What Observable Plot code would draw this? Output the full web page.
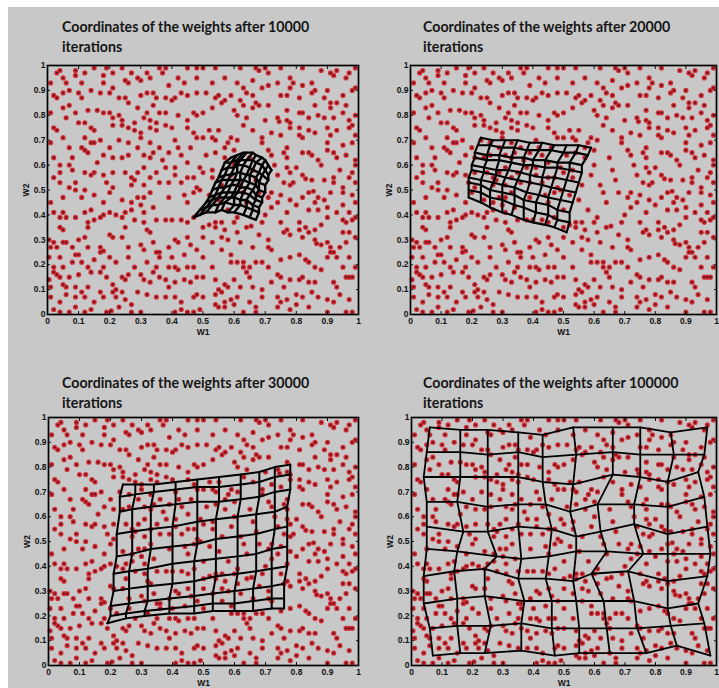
<!DOCTYPE html>
<html><head><meta charset="utf-8">
<script src="https://cdn.jsdelivr.net/npm/d3@7"></script>
<script src="https://cdn.jsdelivr.net/npm/@observablehq/plot@0.6"></script>
<style>
html,body{margin:0;padding:0;background:#fff;}
#page{position:relative;width:719px;height:688px;background:#fff;overflow:hidden;}
#bg{position:absolute;left:8px;top:7px;right:0;bottom:0;background:#c8c8c8;}
.title{position:absolute;font-family:Lato,"Open Sans",sans-serif;font-weight:700;font-size:14.2px;line-height:20px;color:#161616;white-space:nowrap;}
.panel{position:absolute;}
</style></head><body><div id="page"><div id="bg"></div></div>
<script>
const iterationCounts = [10000, 20000, 30000, 100000];
const tickValues = [0,0.1,0.2,0.3,0.4,0.5,0.6,0.7,0.8,0.9,1];
const tickLabels = ["0","0.1","0.2","0.3","0.4","0.5","0.6","0.7","0.8","0.9","1"];

// input samples (W1, W2) — same in all four panels
const samples = [
[0.03,0.97],[0.04,0.98],[0.05,0.95],[0.09,0.98],[0.09,0.96],[0.12,0.97],[0.15,0.99],[0.18,0.96],[0.18,0.93],[0.19,0.99],[0.21,0.97],[0.24,0.99],[0.27,0.97],[0.25,0.94],[0.26,0.93],[0.29,0.95],[0.30,0.94],[0.32,0.97],[0.33,0.95],[0.36,0.99],[0.37,0.97],[0.38,0.99],[0.42,0.95],[0.45,0.99],[0.48,0.99],[0.48,0.95],
[0.02,0.88],[0.03,0.87],[0.05,0.89],[0.07,0.90],[0.10,0.89],[0.11,0.87],[0.14,0.90],[0.17,0.89],[0.20,0.89],[0.21,0.91],[0.23,0.87],[0.25,0.87],[0.26,0.85],[0.30,0.88],[0.32,0.89],[0.34,0.89],[0.35,0.87],[0.38,0.87],[0.40,0.86],[0.41,0.87],[0.43,0.89],[0.45,0.88],[0.48,0.89],
[0.05,0.83],[0.07,0.84],[0.06,0.79],[0.09,0.81],[0.13,0.82],[0.16,0.82],[0.18,0.81],[0.20,0.81],[0.21,0.79],[0.23,0.80],[0.24,0.78],[0.28,0.77],[0.31,0.79],[0.32,0.81],[0.33,0.78],[0.35,0.77],[0.36,0.81],[0.38,0.81],[0.42,0.80],[0.45,0.78],[0.47,0.81],[0.48,0.80],[0.01,0.81],
[0.02,0.75],[0.03,0.74],[0.10,0.77],[0.14,0.75],[0.15,0.74],[0.12,0.77],[0.21,0.76],[0.24,0.76],[0.26,0.75],[0.28,0.74],[0.30,0.73],[0.33,0.75],[0.35,0.74],[0.38,0.76],[0.40,0.75],[0.41,0.70],[0.45,0.75],[0.47,0.73],[0.48,0.71],[0.01,0.69],[0.05,0.71],[0.12,0.71],[0.14,0.69],[0.17,0.70],[0.23,0.70],[0.30,0.71],[0.33,0.69],
[0.07,0.67],[0.11,0.67],[0.12,0.66],[0.15,0.69],[0.20,0.67],[0.26,0.69],[0.29,0.67],[0.02,0.63],[0.08,0.63],[0.13,0.65],[0.18,0.64],[0.21,0.63],[0.24,0.63],[0.26,0.64],[0.31,0.64],[0.33,0.63],[0.34,0.65],[0.39,0.65],[0.42,0.67],[0.45,0.61],[0.49,0.59],[0.46,0.67],
[0.04,0.60],[0.07,0.60],[0.08,0.58],[0.04,0.57],[0.12,0.57],[0.14,0.56],[0.15,0.57],[0.18,0.56],[0.21,0.57],[0.25,0.57],[0.27,0.55],[0.28,0.54],[0.29,0.57],[0.31,0.59],[0.35,0.57],[0.38,0.59],[0.41,0.59],[0.41,0.56],[0.43,0.53],[0.45,0.55],[0.47,0.55],[0.02,0.55],[0.09,0.53],[0.19,0.53],[0.21,0.51],[0.27,0.52],[0.36,0.53],[0.39,0.53],[0.48,0.51],
[0.50,0.99],[0.54,0.99],[0.57,0.95],[0.62,0.99],[0.67,0.99],[0.68,0.98],[0.70,0.99],[0.71,0.97],[0.75,0.99],[0.78,0.95],[0.82,0.99],[0.85,0.93],[0.88,0.98],[0.91,0.97],[0.92,0.96],[0.93,0.98],[0.96,0.95],[0.97,0.97],[0.99,0.99],
[0.51,0.89],[0.53,0.93],[0.54,0.87],[0.55,0.88],[0.56,0.85],[0.57,0.86],[0.61,0.93],[0.63,0.91],[0.64,0.89],[0.66,0.94],[0.66,0.88],[0.69,0.91],[0.71,0.92],[0.74,0.93],[0.75,0.88],[0.77,0.88],[0.78,0.91],[0.79,0.93],[0.85,0.89],[0.86,0.90],[0.89,0.87],[0.90,0.90],[0.91,0.85],[0.93,0.85],[0.95,0.88],[0.98,0.90],[0.99,0.91],
[0.50,0.81],[0.53,0.83],[0.60,0.82],[0.61,0.80],[0.63,0.84],[0.66,0.83],[0.67,0.85],[0.68,0.84],[0.71,0.84],[0.74,0.79],[0.745,0.775],[0.77,0.82],[0.77,0.78],[0.78,0.77],[0.81,0.81],[0.82,0.81],[0.84,0.79],[0.86,0.84],[0.87,0.80],[0.89,0.79],[0.91,0.83],[0.92,0.79],[0.95,0.81],[0.97,0.78],[0.99,0.80],[0.96,0.84],
[0.52,0.74],[0.55,0.74],[0.50,0.71],[0.53,0.71],[0.54,0.70],[0.58,0.69],[0.59,0.71],[0.61,0.70],[0.69,0.71],[0.72,0.73],[0.75,0.72],[0.78,0.75],[0.81,0.75],[0.81,0.72],[0.82,0.71],[0.84,0.74],[0.86,0.73],[0.90,0.75],[0.91,0.72],[0.90,0.69],[0.93,0.74],[0.95,0.68],[0.98,0.69],[0.99,0.72],[0.98,0.76],[0.97,0.75],
[0.51,0.64],[0.54,0.65],[0.57,0.67],[0.60,0.66],[0.69,0.69],[0.72,0.64],[0.76,0.65],[0.77,0.63],[0.77,0.67],[0.82,0.65],[0.84,0.65],[0.85,0.64],[0.92,0.65],[0.93,0.63],[0.96,0.64],[0.99,0.62],[0.99,0.60],[0.88,0.60],[0.77,0.59],[0.80,0.59],
[0.50,0.57],[0.53,0.58],[0.78,0.57],[0.82,0.56],[0.83,0.545],[0.79,0.53],[0.78,0.52],[0.85,0.54],[0.89,0.54],[0.92,0.53],[0.92,0.55],[0.95,0.51],[0.97,0.55],[0.98,0.57],[0.99,0.53],[0.76,0.53],
[0.60,0.60],[0.62,0.52],[0.66,0.58],[0.68,0.49],[0.55,0.46],[0.58,0.42],[0.64,0.45],[0.70,0.40],[0.50,0.42],[0.53,0.55],[0.57,0.63],[0.65,0.63],[0.49,0.50],[0.61,0.39],[0.67,0.54],[0.59,0.56],[0.52,0.48],[0.71,0.47],[0.63,0.49],[0.56,0.52],
[0.01,0.45],[0.05,0.47],[0.09,0.50],[0.11,0.47],[0.15,0.48],[0.18,0.45],[0.20,0.49],[0.24,0.46],[0.27,0.45],[0.29,0.47],[0.30,0.44],[0.31,0.47],[0.33,0.49],[0.39,0.47],[0.44,0.48],[0.45,0.45],[0.47,0.49],
[0.02,0.41],[0.04,0.39],[0.05,0.41],[0.06,0.39],[0.09,0.39],[0.12,0.41],[0.14,0.42],[0.15,0.38],[0.17,0.39],[0.18,0.40],[0.20,0.41],[0.22,0.40],[0.24,0.39],[0.25,0.41],[0.28,0.38],[0.31,0.41],[0.31,0.37],[0.35,0.38],[0.38,0.38],[0.40,0.38],[0.43,0.38],[0.45,0.37],[0.47,0.39],[0.04,0.35],[0.05,0.34],[0.13,0.37],[0.13,0.35],[0.25,0.35],[0.32,0.34],[0.33,0.33],
[0.005,0.30],[0.02,0.29],[0.03,0.27],[0.05,0.29],[0.06,0.29],[0.10,0.30],[0.12,0.31],[0.17,0.27],[0.20,0.32],[0.21,0.31],[0.24,0.31],[0.26,0.27],[0.30,0.28],[0.31,0.26],[0.34,0.29],[0.36,0.25],[0.39,0.27],[0.41,0.30],[0.42,0.29],[0.45,0.31],[0.48,0.26],[0.01,0.27],[0.18,0.255],
[0.005,0.23],[0.04,0.23],[0.05,0.19],[0.08,0.21],[0.09,0.24],[0.10,0.24],[0.11,0.21],[0.13,0.19],[0.15,0.22],[0.17,0.25],[0.20,0.23],[0.22,0.21],[0.26,0.23],[0.28,0.19],[0.32,0.21],[0.35,0.25],[0.36,0.23],[0.35,0.19],[0.39,0.19],[0.41,0.19],[0.42,0.18],[0.45,0.19],[0.47,0.19],[0.02,0.19],
[0.005,0.14],[0.03,0.16],[0.04,0.15],[0.07,0.15],[0.10,0.16],[0.14,0.17],[0.17,0.17],[0.24,0.15],[0.25,0.14],[0.26,0.16],[0.30,0.16],[0.31,0.14],[0.33,0.13],[0.36,0.15],[0.39,0.11],[0.41,0.13],[0.44,0.14],[0.46,0.13],[0.48,0.15],[0.21,0.12],[0.22,0.10],[0.13,0.11],[0.05,0.12],[0.06,0.11],[0.09,0.11],
[0.01,0.07],[0.04,0.05],[0.06,0.08],[0.09,0.07],[0.11,0.09],[0.12,0.07],[0.15,0.05],[0.17,0.09],[0.18,0.07],[0.21,0.09],[0.22,0.07],[0.24,0.09],[0.27,0.04],[0.32,0.08],[0.35,0.07],[0.38,0.07],[0.41,0.07],[0.43,0.05],[0.47,0.07],[0.48,0.08],[0.02,0.02],[0.04,0.01],[0.07,0.01],[0.09,0.03],[0.12,0.01],[0.14,0.02],[0.19,0.01],[0.205,0.015],[0.27,0.01],[0.30,0.01],[0.41,0.01],[0.43,0.02],[0.47,0.01],[0.45,0.01],[0.49,0.02],
[0.72,0.49],[0.75,0.48],[0.78,0.46],[0.82,0.47],[0.84,0.49],[0.855,0.495],[0.86,0.45],[0.87,0.47],[0.89,0.46],[0.91,0.49],[0.95,0.49],[0.98,0.48],[0.99,0.45],[0.84,0.42],[0.87,0.42],[0.90,0.43],[0.93,0.41],[0.97,0.41],[0.74,0.45],
[0.50,0.35],[0.54,0.37],[0.54,0.35],[0.56,0.37],[0.57,0.34],[0.60,0.37],[0.64,0.35],[0.655,0.355],[0.69,0.37],[0.75,0.37],[0.77,0.34],[0.81,0.37],[0.81,0.34],[0.83,0.35],[0.86,0.34],[0.90,0.39],[0.95,0.38],[0.96,0.37],[0.98,0.38],[0.99,0.39],[0.95,0.33],[0.97,0.33],[0.52,0.36],
[0.50,0.31],[0.53,0.29],[0.56,0.31],[0.61,0.33],[0.62,0.29],[0.71,0.30],[0.71,0.27],[0.72,0.26],[0.76,0.33],[0.78,0.32],[0.82,0.31],[0.84,0.33],[0.86,0.30],[0.865,0.285],[0.88,0.28],[0.90,0.29],[0.91,0.27],[0.92,0.25],[0.96,0.29],[0.99,0.31],
[0.50,0.23],[0.53,0.19],[0.59,0.21],[0.61,0.21],[0.63,0.21],[0.63,0.19],[0.65,0.19],[0.67,0.21],[0.69,0.21],[0.71,0.19],[0.75,0.22],[0.78,0.23],[0.81,0.24],[0.83,0.22],[0.84,0.21],[0.86,0.19],[0.88,0.18],[0.90,0.23],[0.91,0.25],[0.93,0.23],[0.95,0.19],[0.99,0.19],[0.97,0.15],
[0.50,0.15],[0.54,0.14],[0.55,0.10],[0.57,0.12],[0.58,0.11],[0.60,0.14],[0.64,0.17],[0.65,0.15],[0.66,0.11],[0.72,0.13],[0.74,0.16],[0.75,0.15],[0.76,0.11],[0.78,0.14],[0.81,0.14],[0.82,0.15],[0.84,0.13],[0.86,0.13],[0.92,0.13],[0.93,0.11],[0.96,0.15],[0.98,0.15],
[0.50,0.07],[0.54,0.08],[0.56,0.09],[0.57,0.05],[0.59,0.06],[0.61,0.07],[0.65,0.05],[0.67,0.03],[0.69,0.07],[0.74,0.07],[0.75,0.05],[0.77,0.06],[0.80,0.08],[0.82,0.07],[0.87,0.07],[0.90,0.06],[0.92,0.05],[0.96,0.01],[0.98,0.01],[0.54,0.04],[0.55,0.03],[0.57,0.03],[0.60,0.04],[0.63,0.01],[0.67,0.01],[0.74,0.03],[0.78,0.02],[0.90,0.01],
[0.56,0.26],[0.59,0.24],[0.58,0.30],[0.66,0.27],[0.68,0.32],[0.37,0.62],[0.43,0.64],[0.36,0.67],[0.87,0.62],[0.94,0.58],[0.90,0.66],[0.63,0.76],[0.66,0.74],[0.70,0.78],[0.64,0.79],
[0.07,0.51],[0.12,0.50],[0.04,0.53],[0.31,0.52],[0.33,0.55],[0.01,0.93],[0.06,0.93],[0.11,0.93],[0.25,0.06],[0.29,0.09],[0.23,0.03],[0.34,0.17],[0.38,0.14],[0.84,0.03],[0.85,0.09],[0.80,0.04],
[0.94,0.08],[0.97,0.06],[0.77,0.41],[0.72,0.43],[0.80,0.44],[0.97,0.23],[0.94,0.27],[0.59,0.88],[0.62,0.86],[0.82,0.92],[0.81,0.87],[0.44,0.24],[0.46,0.28],[0.40,0.23],[0.19,0.15],[0.18,0.19],
[0.34,0.43],[0.27,0.42],[0.13,0.27],[0.08,0.27],[0.39,0.92],[0.44,0.93],[0.62,0.11],[0.69,0.10],[0.73,0.60],[0.74,0.56],[0.71,0.66],[0.88,0.36],[0.95,0.44],[0.16,0.61],[0.29,0.83],[0.34,0.84],[0.01,0.11],[0.02,0.17]
];

// SOM weight grids (10 x 10 nodes), rows listed bottom to top, nodes left to right: [W1, W2]
const grid10k = [
[[0.47,0.39],[0.49,0.40],[0.51,0.41],[0.54,0.41],[0.56,0.42],[0.58,0.41],[0.60,0.41],[0.63,0.40],[0.65,0.39],[0.67,0.38]],
[[0.49,0.42],[0.51,0.43],[0.53,0.44],[0.55,0.44],[0.57,0.45],[0.60,0.44],[0.62,0.44],[0.64,0.43],[0.66,0.42],[0.68,0.41]],
[[0.51,0.45],[0.53,0.46],[0.55,0.47],[0.57,0.47],[0.59,0.47],[0.60,0.47],[0.62,0.46],[0.64,0.46],[0.66,0.44],[0.68,0.43]],
[[0.52,0.47],[0.54,0.48],[0.56,0.49],[0.58,0.49],[0.60,0.49],[0.61,0.49],[0.63,0.49],[0.65,0.48],[0.67,0.46],[0.69,0.45]],
[[0.53,0.50],[0.55,0.51],[0.57,0.51],[0.59,0.52],[0.61,0.52],[0.62,0.51],[0.64,0.51],[0.66,0.50],[0.67,0.48],[0.69,0.47]],
[[0.54,0.53],[0.56,0.54],[0.58,0.54],[0.60,0.54],[0.62,0.54],[0.63,0.54],[0.65,0.53],[0.67,0.52],[0.68,0.50],[0.70,0.49]],
[[0.55,0.55],[0.57,0.56],[0.59,0.56],[0.61,0.57],[0.62,0.57],[0.64,0.56],[0.65,0.56],[0.67,0.55],[0.68,0.53],[0.70,0.52]],
[[0.56,0.58],[0.58,0.59],[0.60,0.59],[0.61,0.60],[0.63,0.60],[0.65,0.59],[0.66,0.58],[0.68,0.57],[0.69,0.56],[0.71,0.54]],
[[0.57,0.61],[0.59,0.61],[0.61,0.62],[0.62,0.62],[0.64,0.62],[0.66,0.62],[0.67,0.61],[0.69,0.60],[0.70,0.58],[0.71,0.56]],
[[0.59,0.63],[0.61,0.64],[0.63,0.65],[0.64,0.65],[0.66,0.65],[0.67,0.64],[0.69,0.63],[0.70,0.62],[0.71,0.60],[0.72,0.58]]
];
const grid20k = [
[[0.19,0.47],[0.23,0.45],[0.26,0.43],[0.30,0.41],[0.33,0.40],[0.37,0.38],[0.40,0.37],[0.44,0.36],[0.47,0.35],[0.51,0.33]],
[[0.19,0.50],[0.23,0.49],[0.26,0.47],[0.30,0.46],[0.34,0.44],[0.37,0.43],[0.41,0.41],[0.45,0.40],[0.48,0.38],[0.52,0.37]],
[[0.19,0.53],[0.23,0.52],[0.26,0.50],[0.30,0.49],[0.34,0.48],[0.37,0.46],[0.41,0.45],[0.45,0.44],[0.48,0.42],[0.52,0.41]],
[[0.19,0.55],[0.23,0.54],[0.27,0.53],[0.30,0.52],[0.34,0.51],[0.38,0.49],[0.42,0.48],[0.45,0.47],[0.49,0.46],[0.53,0.45]],
[[0.20,0.58],[0.24,0.57],[0.28,0.56],[0.31,0.55],[0.35,0.54],[0.39,0.53],[0.43,0.52],[0.46,0.51],[0.50,0.50],[0.54,0.49]],
[[0.20,0.60],[0.24,0.59],[0.28,0.58],[0.32,0.58],[0.36,0.57],[0.39,0.56],[0.43,0.55],[0.47,0.55],[0.51,0.54],[0.55,0.53]],
[[0.21,0.63],[0.25,0.62],[0.29,0.62],[0.33,0.61],[0.37,0.60],[0.40,0.60],[0.44,0.59],[0.48,0.59],[0.52,0.58],[0.56,0.57]],
[[0.21,0.65],[0.25,0.64],[0.29,0.64],[0.33,0.63],[0.37,0.63],[0.40,0.62],[0.44,0.62],[0.48,0.61],[0.52,0.61],[0.56,0.60]],
[[0.22,0.68],[0.26,0.68],[0.30,0.67],[0.34,0.67],[0.38,0.66],[0.42,0.66],[0.46,0.66],[0.50,0.65],[0.54,0.65],[0.58,0.64]],
[[0.23,0.71],[0.27,0.70],[0.31,0.70],[0.35,0.70],[0.39,0.69],[0.43,0.69],[0.47,0.68],[0.51,0.68],[0.55,0.68],[0.59,0.67]]
];
const grid30k = [
[[0.19,0.17],[0.25,0.19],[0.31,0.20],[0.39,0.21],[0.47,0.21],[0.53,0.22],[0.60,0.22],[0.66,0.22],[0.72,0.23],[0.76,0.23]],
[[0.20,0.20],[0.25,0.21],[0.31,0.22],[0.39,0.23],[0.47,0.24],[0.53,0.25],[0.60,0.25],[0.66,0.26],[0.72,0.27],[0.76,0.27]],
[[0.20,0.24],[0.26,0.25],[0.32,0.26],[0.39,0.27],[0.47,0.28],[0.53,0.29],[0.60,0.30],[0.66,0.31],[0.72,0.32],[0.76,0.33]],
[[0.21,0.30],[0.26,0.31],[0.32,0.32],[0.40,0.33],[0.47,0.34],[0.54,0.36],[0.61,0.37],[0.67,0.38],[0.72,0.39],[0.77,0.40]],
[[0.21,0.37],[0.26,0.38],[0.32,0.39],[0.40,0.41],[0.47,0.42],[0.54,0.43],[0.61,0.44],[0.67,0.45],[0.72,0.47],[0.77,0.48]],
[[0.22,0.44],[0.27,0.45],[0.33,0.47],[0.40,0.48],[0.48,0.49],[0.54,0.51],[0.61,0.52],[0.67,0.53],[0.73,0.55],[0.77,0.56]],
[[0.22,0.53],[0.27,0.54],[0.33,0.55],[0.40,0.56],[0.48,0.58],[0.54,0.59],[0.61,0.60],[0.67,0.61],[0.73,0.62],[0.77,0.64]],
[[0.23,0.62],[0.27,0.63],[0.33,0.64],[0.41,0.65],[0.48,0.66],[0.55,0.66],[0.62,0.67],[0.68,0.68],[0.73,0.70],[0.78,0.71]],
[[0.23,0.68],[0.28,0.69],[0.34,0.70],[0.41,0.71],[0.48,0.72],[0.55,0.72],[0.62,0.73],[0.68,0.74],[0.73,0.76],[0.78,0.77]],
[[0.24,0.73],[0.28,0.73],[0.34,0.73],[0.41,0.74],[0.48,0.75],[0.55,0.76],[0.62,0.77],[0.68,0.78],[0.73,0.80],[0.78,0.81]]
];
const grid100k = [
[[0.07,0.04],[0.16,0.05],[0.24,0.05],[0.36,0.06],[0.47,0.04],[0.55,0.05],[0.65,0.05],[0.77,0.05],[0.87,0.08],[0.98,0.04]],
[[0.06,0.15],[0.15,0.16],[0.26,0.16],[0.36,0.17],[0.46,0.15],[0.55,0.15],[0.64,0.15],[0.74,0.15],[0.85,0.16],[0.96,0.17]],
[[0.04,0.25],[0.15,0.27],[0.24,0.28],[0.37,0.26],[0.46,0.26],[0.54,0.26],[0.63,0.26],[0.73,0.26],[0.84,0.23],[0.94,0.25]],
[[0.04,0.36],[0.14,0.38],[0.24,0.39],[0.35,0.35],[0.44,0.35],[0.53,0.34],[0.59,0.37],[0.71,0.38],[0.84,0.34],[0.97,0.36]],
[[0.05,0.47],[0.15,0.46],[0.28,0.44],[0.36,0.43],[0.45,0.44],[0.54,0.46],[0.64,0.46],[0.76,0.45],[0.84,0.45],[0.98,0.45]],
[[0.05,0.56],[0.17,0.54],[0.25,0.54],[0.35,0.56],[0.46,0.55],[0.54,0.52],[0.62,0.54],[0.73,0.57],[0.84,0.53],[0.97,0.56]],
[[0.05,0.66],[0.15,0.66],[0.25,0.64],[0.35,0.65],[0.44,0.65],[0.52,0.62],[0.61,0.65],[0.73,0.65],[0.84,0.64],[0.96,0.68]],
[[0.04,0.76],[0.16,0.76],[0.25,0.76],[0.35,0.76],[0.43,0.74],[0.53,0.73],[0.66,0.77],[0.75,0.76],[0.84,0.74],[0.94,0.78]],
[[0.05,0.86],[0.16,0.86],[0.25,0.85],[0.35,0.86],[0.43,0.84],[0.54,0.85],[0.66,0.86],[0.75,0.85],[0.86,0.85],[0.96,0.85]],
[[0.06,0.96],[0.16,0.95],[0.25,0.95],[0.35,0.94],[0.43,0.93],[0.53,0.96],[0.66,0.96],[0.75,0.96],[0.85,0.94],[0.97,0.96]]
];
const grids = [grid10k, grid20k, grid30k, grid100k];

// layout of the four panels (pixels)
const layout = [
  {left:0,   top:40,  width:360, height:300, mL:47, mR:2, mT:25, mB:26, tx:62,  ty:17, sw:2.4},
  {left:360, top:40,  width:359, height:300, mL:50, mR:3, mT:25, mB:26, tx:423, ty:17, sw:2.1},
  {left:0,   top:392, width:360, height:296, mL:48, mR:2, mT:25, mB:23, tx:62,  ty:373, sw:2.0},
  {left:360, top:392, width:359, height:296, mL:51, mR:3, mT:25, mB:23, tx:423, ty:373, sw:1.8}
];

const page = document.getElementById("page");
const fmt = d => tickLabels[tickValues.findIndex(v => Math.abs(v - d) < 1e-9)];

iterationCounts.forEach((it, p) => {
  const L = layout[p];
  const nodes = [];
  grids[p].forEach((row, r) => row.forEach(([x, y], c) => nodes.push({x, y, row: r, col: c})));
  const byCol = d3.sort(nodes, d => d.col, d => d.row);

  const title = document.createElement("div");
  title.className = "title";
  title.style.left = L.tx + "px";
  title.style.top = L.ty + "px";
  title.innerHTML = `Coordinates of the weights after ${it}<br>iterations`;
  page.appendChild(title);

  const chart = Plot.plot({
    width: L.width, height: L.height,
    marginLeft: L.mL, marginRight: L.mR, marginTop: L.mT, marginBottom: L.mB,
    x: {domain: [0, 1]}, y: {domain: [0, 1]},
    style: {background: "transparent", fontFamily: "'Liberation Sans', Arial, sans-serif", fontSize: "8.5px", fontWeight: "bold", color: "#111", overflow: "visible"},
    marks: [
      Plot.dot(samples, {x: d => d[0], y: d => d[1], r: 2.6, fill: "#d62a30", fillOpacity: 0.95}),
      Plot.dot(samples, {x: d => d[0], y: d => d[1], r: 1.3, fill: "#7a1420"}),
      Plot.line(nodes, {x: "x", y: "y", z: "row", stroke: "#000", strokeWidth: L.sw}),
      Plot.line(byCol, {x: "x", y: "y", z: "col", stroke: "#000", strokeWidth: L.sw}),
      Plot.frame({stroke: "#000", strokeWidth: 1.7}),
      Plot.axisX({ticks: tickValues, tickFormat: fmt, tickSize: -3, tickPadding: 6, label: "W1", labelAnchor: "center", labelOffset: 20, labelArrow: "none"}),
      Plot.axisX({anchor: "top", ticks: tickValues, tickFormat: () => "", tickSize: -3, label: null}),
      Plot.axisY({ticks: tickValues, tickFormat: fmt, tickSize: -3, tickPadding: 5, label: "W2", labelAnchor: "center", labelOffset: 25, labelArrow: "none"}),
      Plot.axisY({anchor: "right", ticks: tickValues, tickFormat: () => "", tickSize: -3, label: null})
    ]
  });
  chart.classList.add("panel");
  chart.style.left = L.left + "px";
  chart.style.top = L.top + "px";
  page.appendChild(chart);
});
</script>
</body></html>
